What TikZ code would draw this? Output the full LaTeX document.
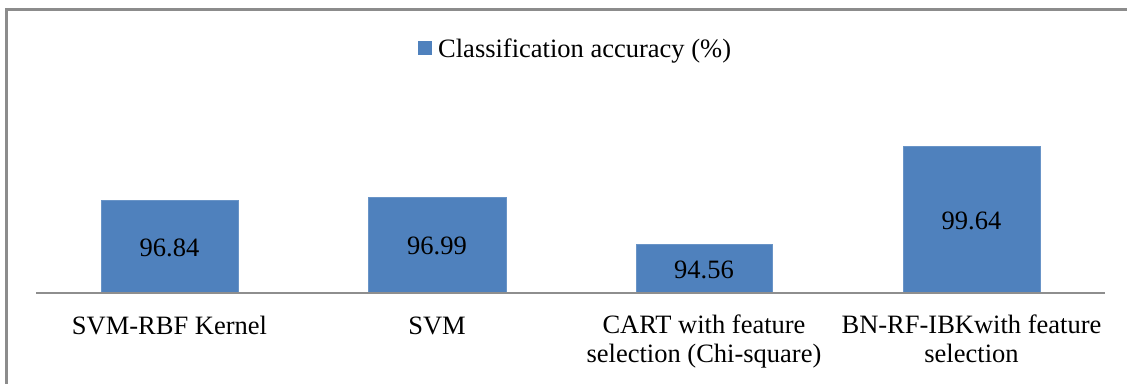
\documentclass[tikz,border=0pt]{standalone}
\usepackage{fontspec}
\setmainfont{Liberation Serif}
\definecolor{barblue}{HTML}{4F81BD}
\definecolor{framegray}{HTML}{8C8C8C}
\definecolor{axisgray}{HTML}{8E8E8E}
\tikzset{
  bar/.style={fill=barblue, draw=barblue!85!white, line width=0.6pt},
  vallabel/.style={font=\fontsize{26.5}{29}\selectfont, inner sep=0pt},
  catlabel/.style={font=\fontsize{26.5}{28.5}\selectfont, align=center, anchor=base, inner sep=0pt},
}
\begin{document}
\begin{tikzpicture}[x=1pt,y=-1pt]
\useasboundingbox (0,0) rectangle (1127,383);
% frame
\draw[framegray, line width=2.2pt] (6.5,384) -- (6.5,9.5) -- (1128,9.5);
% legend
\fill[barblue] (418,41) rectangle (432,55);
\node[anchor=base west, inner sep=0pt, font=\fontsize{26.5}{29}\selectfont] (leg) at (438,57) {Classification accuracy (\%)};
% bars
\draw[bar] (101,200) rectangle (238,293);
\draw[bar] (368,197) rectangle (506,293);
\draw[bar] (636,244) rectangle (772,293);
\draw[bar] (903,146) rectangle (1040,293);
% axis
\draw[axisgray, line width=2pt] (36,293) -- (1105,293);
% values
\node[vallabel] (v1) at (169.5,248) {96.84};
\node[vallabel] (v2) at (437,246) {96.99};
\node[vallabel] (v3) at (704,270) {94.56};
\node[vallabel] (v4) at (971.5,221) {99.64};
% categories (base anchor = baseline of the last line)
\node[catlabel] (c1) at (169.5,334) {SVM-RBF Kernel};
\node[catlabel] (c2) at (437,334) {SVM};
\node[catlabel] (c3) at (704,362) {CART with feature\\selection (Chi-square)};
\node[catlabel] (c4) at (971.5,362) {BN-RF-IBKwith feature\\selection};
\end{tikzpicture}
\end{document}
